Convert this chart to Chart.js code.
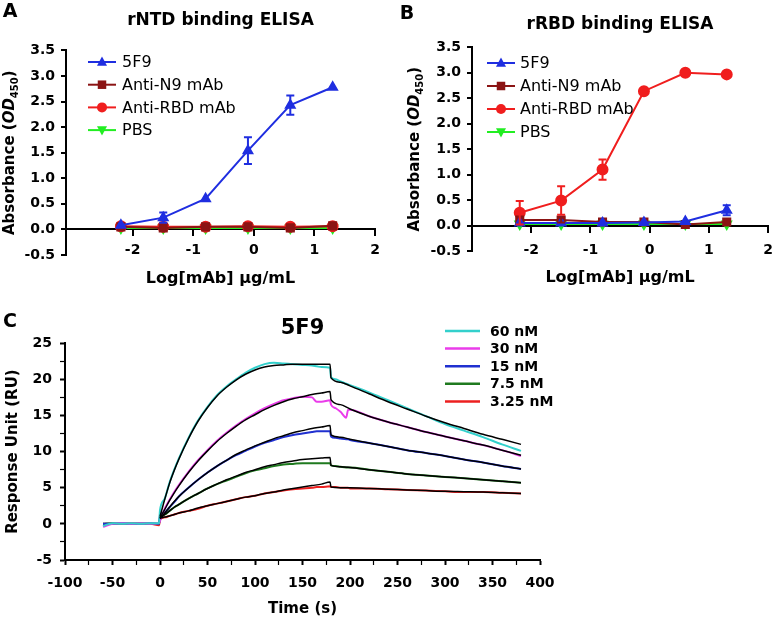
<!DOCTYPE html>
<html><head><meta charset="utf-8">
<script src="https://cdn.jsdelivr.net/npm/chart.js@4/dist/chart.umd.min.js"></script>
<style>
html,body{margin:0;padding:0;background:#fff;}
#wrap{position:relative;width:783px;height:618px;overflow:hidden;background:#fff;}
canvas{position:absolute;}
</style></head><body>
<div id="wrap">
<canvas id="cA" width="390" height="300" style="left:0;top:0"></canvas>
<canvas id="cB" width="393" height="300" style="left:390px;top:0"></canvas>
<canvas id="cC" width="783" height="318" style="left:0;top:300px"></canvas>
</div>
<script>
// ---------------- DATA ----------------
const logConc = [-2.194, -1.495, -0.796, -0.097, 0.602, 1.301];
const seriesLabels = ['5F9', 'Anti-N9 mAb', 'Anti-RBD mAb', 'PBS'];

// Panel A: rNTD binding ELISA
const ntd5F9      = [0.08, 0.23, 0.60, 1.54, 2.43, 2.78];
const ntd5F9Err   = [0.03, 0.10, 0.03, 0.26, 0.19, 0.03];
const ntdAntiN9   = [0.05, 0.03, 0.05, 0.05, 0.03, 0.07];
const ntdAntiRBD  = [0.06, 0.05, 0.05, 0.06, 0.05, 0.06];
const ntdPBS      = [0.03, 0.03, 0.03, 0.03, 0.03, 0.03];

// Panel B: rRBD binding ELISA
const rbd5F9        = [0.05, 0.05, 0.05, 0.06, 0.08, 0.30];
const rbd5F9Err     = [0.02, 0.02, 0.02, 0.02, 0.02, 0.10];
const rbdAntiN9     = [0.11, 0.11, 0.07, 0.07, 0.02, 0.07];
const rbdAntiN9Err  = [0.03, 0.05, 0.02, 0.02, 0.02, 0.02];
const rbdAntiRBD    = [0.25, 0.49, 1.10, 2.64, 3.00, 2.97];
const rbdAntiRBDErr = [0.23, 0.28, 0.20, 0.02, 0.02, 0.02];
const rbdPBS        = [0.03, 0.03, 0.03, 0.03, 0.03, 0.03];

const yTicksAB = [-0.5, 0, 0.5, 1, 1.5, 2, 2.5, 3, 3.5];

// Panel C: SPR sensorgrams (5F9)
const concLabels = ['60 nM', '30 nM', '15 nM', '7.5 nM', '3.25 nM'];
const dataTime = [-60,-50,-40,-30,-20,-10,-1,
  0,5,10,15,20,30,40,50,60,70,80,90,100,110,120,130,140,150,160,165,170,179,
  180,185,190,196,198,200,220,240,260,280,300,320,340,360,380];
const raw60 = [-0.3,0.1,0.0,0.1,0.0,0.1,0.1,
  1.9,3.5,5.7,7.5,9.1,11.9,14.3,16.2,17.8,19.0,20.0,20.9,21.6,22.1,22.3,22.2,22.1,22.0,21.9,21.8,21.7,21.6,
  20.3,20.0,19.7,19.4,19.3,19.2,18.2,17.1,16.0,14.9,13.8,12.9,12.0,11.0,10.1];
const raw30 = [-0.4,0.0,0.1,0.0,0.1,0.0,0.1,
  0.4,2.1,3.3,4.4,5.4,7.2,8.8,10.2,11.5,12.6,13.6,14.5,15.3,16.0,16.6,17.1,17.4,17.6,17.5,16.9,16.9,17.1,
  16.5,16.0,15.5,14.7,15.8,15.8,14.9,14.1,13.4,12.7,12.1,11.5,10.9,10.2,9.4];
const raw15 = [0.0,0.0,0.1,0.0,0.0,0.1,0.0,
  1.2,1.6,2.3,3.0,3.8,5.0,6.1,7.1,8.0,8.8,9.5,10.1,10.7,11.2,11.6,12.0,12.3,12.5,12.7,12.8,12.8,12.8,
  12.1,11.9,11.8,11.7,11.7,11.6,11.2,10.7,10.2,9.8,9.4,8.9,8.5,8.0,7.6];
const raw7p5 = [0.0,0.1,0.0,0.0,0.1,0.0,0.0,
  0.9,1.3,1.8,2.3,2.7,3.5,4.2,4.9,5.5,6.0,6.5,7.0,7.4,7.7,8.0,8.2,8.3,8.4,8.4,8.4,8.4,8.4,
  8.1,8.0,7.9,7.8,7.8,7.8,7.5,7.2,6.9,6.7,6.5,6.3,6.1,5.9,5.7];
const raw3p25 = [0.0,0.0,0.0,0.1,0.0,0.0,-0.2,
  0.6,0.9,1.1,1.3,1.5,1.8,2.1,2.5,2.8,3.1,3.4,3.7,3.9,4.2,4.4,4.6,4.8,4.9,5.0,5.1,5.1,5.2,
  5.1,5.1,5.0,5.0,5.0,4.9,4.9,4.8,4.7,4.6,4.5,4.4,4.4,4.3,4.2];

const fitTime = [0,5,10,15,20,30,40,50,60,70,80,90,100,110,120,130,140,150,160,170,179,
  180,190,200,220,240,260,280,300,320,340,360,380];
const fit60 = [1.0,3.4,5.6,7.4,9.0,11.8,14.2,16.1,17.7,18.9,19.9,20.7,21.3,21.7,21.9,22.0,22.1,22.1,22.1,22.1,22.1,
  20.2,19.6,19.1,18.0,16.9,15.9,14.9,14.0,13.2,12.4,11.7,11.0];
const fit30 = [0.8,2.0,3.2,4.3,5.3,7.1,8.7,10.1,11.4,12.5,13.5,14.4,15.1,15.8,16.4,16.9,17.3,17.6,17.9,18.1,18.3,
  17.2,16.5,15.9,14.9,14.1,13.4,12.7,12.1,11.5,10.9,10.2,9.5];
const fit15 = [0.7,1.5,2.3,3.1,3.8,5.0,6.1,7.1,8.0,8.8,9.6,10.2,10.8,11.3,11.8,12.2,12.6,12.9,13.2,13.4,13.6,
  12.3,12.0,11.7,11.2,10.7,10.2,9.8,9.4,8.9,8.5,8.0,7.6];
const fit7p5 = [0.8,1.3,1.8,2.3,2.7,3.5,4.2,4.9,5.5,6.1,6.6,7.1,7.5,7.9,8.2,8.5,8.7,8.9,9.0,9.1,9.2,
  8.1,7.9,7.8,7.5,7.2,6.9,6.7,6.5,6.3,6.1,5.9,5.7];
const fit3p25 = [0.8,0.95,1.1,1.3,1.5,1.8,2.2,2.5,2.8,3.1,3.4,3.7,3.9,4.2,4.4,4.7,4.9,5.1,5.3,5.5,5.8,
  5.1,5.0,5.0,4.9,4.8,4.7,4.6,4.5,4.45,4.4,4.3,4.2];

// ---------------- STYLE ----------------
const FAM = "'DejaVu Sans', 'Liberation Sans', sans-serif";
Chart.defaults.font.family = FAM;
Chart.defaults.color = '#000';
Chart.defaults.animation = false;

const COL = { blue:'#1f2ee0', darkred:'#8b1414', red:'#f01e1e', green:'#22ee22' };
const cCols = ['#33d0cc', '#ea3cea', '#2030d0', '#1f7a1f', '#ec2020'];

// ---------------- PLUGINS ----------------
function drawMarker(ctx, style, x, y, r, rot, color) {
  ctx.save();
  ctx.fillStyle = color; ctx.strokeStyle = color;
  ctx.translate(x, y); ctx.rotate((rot || 0) * Math.PI / 180);
  ctx.beginPath();
  if (style === 'triangle') {
    ctx.moveTo(0, -r * 1.1); ctx.lineTo(r, r * 0.75); ctx.lineTo(-r, r * 0.75); ctx.closePath();
  } else if (style === 'rect') {
    ctx.rect(-r * 0.85, -r * 0.85, r * 1.7, r * 1.7);
  } else {
    ctx.arc(0, 0, r, 0, Math.PI * 2);
  }
  ctx.fill();
  ctx.restore();
}

const errorBars = {
  id: 'errorBars',
  afterDatasetsDraw(chart) {
    const ctx = chart.ctx, xs = chart.scales.x, ys = chart.scales.y;
    const n = chart.data.datasets.length;
    for (let i = n - 1; i >= 0; i--) {
      const ds = chart.data.datasets[i];
      if (!ds.errors) continue;
      ctx.save();
      ctx.strokeStyle = ds.borderColor; ctx.lineWidth = 2;
      ds.data.forEach((pt, j) => {
        const e = ds.errors[j];
        if (!e || e < 0.04) return;
        const px = xs.getPixelForValue(pt.x);
        const y1 = ys.getPixelForValue(pt.y - e), y2 = ys.getPixelForValue(pt.y + e);
        ctx.beginPath();
        ctx.moveTo(px, y1); ctx.lineTo(px, y2);
        ctx.moveTo(px - 4, y1); ctx.lineTo(px + 4, y1);
        ctx.moveTo(px - 4, y2); ctx.lineTo(px + 4, y2);
        ctx.stroke();
      });
      ctx.restore();
    }
  }
};

const customLegend = {
  id: 'customLegend',
  afterDraw(chart, args, o) {
    if (!o || !o.display) return;
    const ctx = chart.ctx;
    let row = 0;
    chart.data.datasets.forEach(ds => {
      if (ds.noLegend) return;
      const y = o.y + row * o.rowH;
      ctx.save();
      ctx.strokeStyle = ds.borderColor; ctx.lineWidth = o.lineWidth || 2;
      ctx.beginPath(); ctx.moveTo(o.x, y); ctx.lineTo(o.x + o.lineLen, y); ctx.stroke();
      if (o.markers) drawMarker(ctx, ds.pointStyle, o.x + o.lineLen / 2, y, o.markerR, ds.pointRotation, ds.pointBackgroundColor);
      ctx.fillStyle = '#000';
      ctx.font = (o.weight || 'normal') + ' ' + o.size + 'px ' + FAM;
      ctx.textAlign = 'left'; ctx.textBaseline = 'middle';
      ctx.fillText(ds.label, o.textX, y + 1);
      ctx.restore();
      row++;
    });
  }
};

const extraText = {
  id: 'extraText',
  afterDraw(chart, args, o) {
    if (!o) return;
    const ctx = chart.ctx;
    if (o.letter) {
      ctx.save();
      ctx.font = 'bold ' + o.letter.size + 'px ' + FAM;
      ctx.fillStyle = '#000'; ctx.textAlign = 'center'; ctx.textBaseline = 'middle';
      ctx.fillText(o.letter.text, o.letter.x, o.letter.y);
      ctx.restore();
    }
    if (o.yTitle) {
      const t = o.yTitle, ca = chart.chartArea;
      ctx.save();
      let total = 0;
      const pieces = t.parts.map(p => {
        const size = p.size || t.size;
        const font = (p.style || 'normal') + ' ' + (t.weight || 'normal') + ' ' + size + 'px ' + FAM;
        ctx.font = font;
        const w = ctx.measureText(p.text).width;
        total += w;
        return { text: p.text, font, w, dy: p.dy || 0 };
      });
      const cy = (ca.top + ca.bottom) / 2 + (t.dy || 0);
      ctx.translate(t.x, cy);
      ctx.rotate(-Math.PI / 2);
      ctx.fillStyle = '#000'; ctx.textAlign = 'left'; ctx.textBaseline = 'middle';
      let x = -total / 2;
      pieces.forEach(p => { ctx.font = p.font; ctx.fillText(p.text, x, p.dy); x += p.w; });
      ctx.restore();
    }
  }
};

Chart.register(errorBars, customLegend, extraText);

// ---------------- ELISA PANELS ----------------
function pts(xs, ys) { return xs.map((x, i) => ({ x, y: ys[i] })); }

function elisaDatasets(v5F9, e5F9, vN9, eN9, vRBD, eRBD, vPBS) {
  const mk = (label, vals, errs, color, style, rot) => ({
    label, data: pts(logConc, vals), errors: errs,
    borderColor: color, backgroundColor: color, pointBackgroundColor: color, pointBorderColor: color,
    borderWidth: 2, pointStyle: style, pointRotation: rot || 0, pointRadius: 5,
    tension: 0
  });
  return [
    mk(seriesLabels[0], v5F9, e5F9, COL.blue, 'triangle'),
    mk(seriesLabels[1], vN9, eN9, COL.darkred, 'rect'),
    mk(seriesLabels[2], vRBD, eRBD, COL.red, 'circle'),
    mk(seriesLabels[3], vPBS, null, COL.green, 'triangle', 180)
  ];
}

function elisaOptions(cfg) {
  return {
    responsive: false, devicePixelRatio: 1,
    layout: { padding: { left: 0, right: cfg.padRight, top: 0, bottom: cfg.padBottom } },
    plugins: {
      legend: { display: false },
      tooltip: { enabled: false },
      title: {
        display: true, text: cfg.title, fullSize: false,
        font: { size: 17, weight: 'bold', family: FAM }, color: '#000',
        padding: { top: cfg.titleTop, bottom: cfg.titleBottom }
      },
      customLegend: { display: true, x: cfg.legX, y: cfg.legY, rowH: cfg.legRow, lineLen: 28, textX: cfg.legTextX,
        size: 16, markers: true, markerR: 5, lineWidth: 2 },
      extraText: {
        letter: { text: cfg.letter, x: cfg.letterX, y: cfg.letterY, size: 19 },
        yTitle: { x: cfg.yTitleX, size: 15, weight: 'bold', parts: [
          { text: 'Absorbance (' }, { text: 'OD', style: 'italic' },
          { text: '450', size: 10, dy: 5 }, { text: ')' } ] }
      }
    },
    scales: {
      x: {
        type: 'linear', min: cfg.xMin, max: 2, position: { y: 0 },
        ticks: { stepSize: 1, font: { size: 14, weight: 'bold' }, padding: cfg.xTickPad, autoSkip: false, maxRotation: 0 },
        afterBuildTicks: s => { s.ticks = s.ticks.filter(t => Number.isInteger(t.value) && t.value >= -2 && t.value <= 2); },
        grid: { drawOnChartArea: false, drawTicks: true, tickLength: 6, color: '#000', lineWidth: 2 },
        border: { display: true, color: '#000', width: 2 },
        title: { display: true, text: 'Log[mAb] µg/mL', font: { size: 16, weight: 'bold' }, padding: 0 },
        afterFit: s => { s.height = cfg.xHeight; }
      },
      y: {
        type: 'linear', min: -0.5, max: 3.5,
        ticks: { stepSize: 0.5, font: { size: 14, weight: 'bold' }, padding: 6, callback: v => Number(v).toFixed(1) },
        afterBuildTicks: s => { s.ticks = yTicksAB.map(v => ({ value: v })); },
        grid: { drawOnChartArea: false, drawTicks: true, tickLength: 5, color: '#000', lineWidth: 2 },
        border: { display: true, color: '#000', width: 2 },
        title: { display: false },
        afterFit: s => { s.width = cfg.yWidth; }
      }
    }
  };
}

new Chart(document.getElementById('cA'), {
  type: 'line',
  data: { datasets: elisaDatasets(ntd5F9, ntd5F9Err, ntdAntiN9, null, ntdAntiRBD, null, ntdPBS) },
  options: elisaOptions({
    title: 'rNTD binding ELISA', padRight: 15, padBottom: 45, titleTop: 10, titleBottom: 20,
    xMin: -3.1, xHeight: 59, yWidth: 66, xTickPad: 7,
    legX: 88, legY: 62, legRow: 22.7, legTextX: 122,
    letter: 'A', letterX: 10, letterY: 12, yTitleX: 10
  })
});

new Chart(document.getElementById('cB'), {
  type: 'line',
  data: { datasets: elisaDatasets(rbd5F9, rbd5F9Err, rbdAntiN9, rbdAntiN9Err, rbdAntiRBD, rbdAntiRBDErr, rbdPBS) },
  options: elisaOptions({
    title: 'rRBD binding ELISA', padRight: 6, padBottom: 49, titleTop: 14, titleBottom: 13,
    xMin: -3.0, xHeight: 62, yWidth: 82, xTickPad: 10,
    legX: 97, legY: 63, legRow: 23, legTextX: 130,
    letter: 'B', letterX: 17, letterY: 14, yTitleX: 25
  })
});

// ---------------- SPR PANEL ----------------
const rawSets = [raw60, raw30, raw15, raw7p5, raw3p25];
const fitSets = [fit60, fit30, fit15, fit7p5, fit3p25];
const cDatasets = [];
fitSets.forEach(f => cDatasets.push({
  label: 'fit', noLegend: true, data: pts(fitTime, f), borderColor: '#000', borderWidth: 1.5,
  pointRadius: 0, cubicInterpolationMode: 'monotone'
}));
rawSets.forEach((r, i) => cDatasets.push({
  label: concLabels[i], data: pts(dataTime, r), borderColor: cCols[i], borderWidth: 2,
  pointRadius: 0, cubicInterpolationMode: 'monotone'
}));

new Chart(document.getElementById('cC'), {
  type: 'line',
  data: { datasets: cDatasets },
  options: {
    responsive: false, devicePixelRatio: 1,
    layout: { padding: { left: 0, right: 243, top: 0, bottom: 0 } },
    plugins: {
      legend: { display: false }, tooltip: { enabled: false },
      title: { display: true, text: '5F9', fullSize: false, font: { size: 21, weight: 'bold', family: FAM }, color: '#000',
        padding: { top: 16, bottom: 2 } },
      customLegend: { display: true, x: 445, y: 31, rowH: 17.6, lineLen: 35, textX: 490, size: 14, weight: 'bold', markers: false, lineWidth: 2.5 },
      extraText: { letter: { text: 'C', x: 10, y: 22, size: 19 } }
    },
    scales: {
      x: {
        type: 'linear', min: -100, max: 400, position: 'bottom',
        ticks: { stepSize: 25, font: { size: 14, weight: 'bold' }, padding: 10, autoSkip: false, maxRotation: 0,
          callback: v => (v % 50 === 0 ? String(v) : '') },
        grid: { drawOnChartArea: false, drawTicks: true, tickLength: 5, color: '#000',
          tickWidth: c => (c.tick && c.tick.value % 50 === 0 ? 2 : 1.2) },
        border: { display: true, color: '#000', width: 2 },
        title: { display: true, text: 'Time (s)', font: { size: 15, weight: 'bold' }, padding: 0 },
        afterFit: s => { s.height = 58; }
      },
      y: {
        type: 'linear', min: -5, max: 25,
        ticks: { stepSize: 2.5, font: { size: 14, weight: 'bold' }, padding: 8, autoSkip: false,
          callback: v => (v % 5 === 0 ? String(v) : '') },
        grid: { drawOnChartArea: false, drawTicks: true, tickLength: 5, color: '#000',
          tickWidth: c => (c.tick && c.tick.value % 5 === 0 ? 2 : 1.2) },
        border: { display: true, color: '#000', width: 2 },
        title: { display: true, text: 'Response Unit (RU)', font: { size: 15, weight: 'bold' }, padding: { top: 4, bottom: 0 } },
        afterFit: s => { s.width = 65; }
      }
    }
  }
});
</script>
</body></html>
